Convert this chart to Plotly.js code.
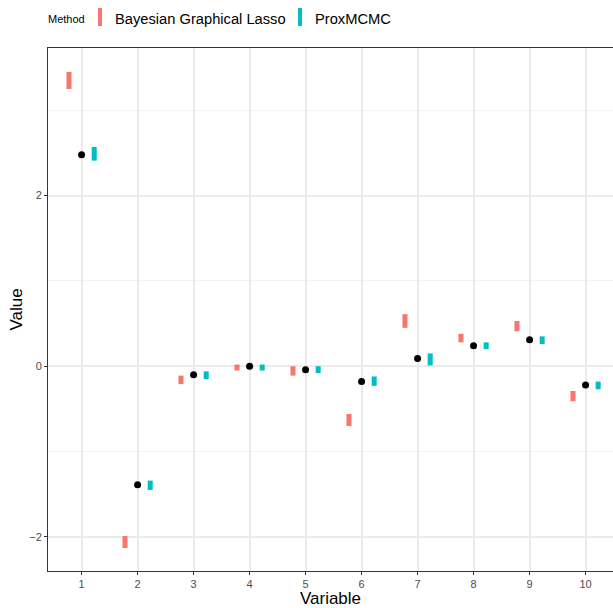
<!DOCTYPE html>
<html>
<head>
<meta charset="utf-8">
<script src="https://cdn.plot.ly/plotly-3.0.1.min.js"></script>
<style>html,body{margin:0;padding:0;background:#fff;}#chart{width:613px;height:608px;}</style>
</head>
<body>
<div id="chart"></div>
<script>
// Data
const variables = [1, 2, 3, 4, 5, 6, 7, 8, 9, 10];
const trueValue = [2.48, -1.39, -0.10, 0.00, -0.04, -0.18, 0.09, 0.24, 0.31, -0.22];
const bglLow  = [3.25, -2.13, -0.21, -0.05, -0.11, -0.70, 0.45, 0.28, 0.41, -0.41];
const bglHigh = [3.45, -1.99, -0.11, 0.02, 0.00, -0.56, 0.61, 0.38, 0.53, -0.29];
const proxLow  = [2.41, -1.45, -0.15, -0.05, -0.08, -0.23, 0.01, 0.20, 0.26, -0.27];
const proxHigh = [2.57, -1.34, -0.06, 0.02, 0.00, -0.12, 0.15, 0.28, 0.35, -0.18];
const methods = ["Bayesian Graphical Lasso", "ProxMCMC"];
const tickLabels = ["1","2","3","4","5","6","7","8","9","10"];

const colBGL = "#F8766D", colProx = "#00BFC4";
const dodge = 0.225, barW = 0.09;

const traces = [
  {
    type: "bar", name: methods[0], showlegend: false,
    x: variables.map(v => v - dodge),
    base: bglLow,
    y: bglHigh.map((h, i) => h - bglLow[i]),
    width: barW,
    marker: {color: colBGL, line: {width: 0}},
    hoverinfo: "skip"
  },
  {
    type: "bar", name: methods[1], showlegend: false,
    x: variables.map(v => v + dodge),
    base: proxLow,
    y: proxHigh.map((h, i) => h - proxLow[i]),
    width: barW,
    marker: {color: colProx, line: {width: 0}},
    hoverinfo: "skip"
  },
  {
    type: "scatter", mode: "markers", showlegend: false,
    x: variables, y: trueValue,
    marker: {color: "#000000", size: 7}
  }
];

const FONT = "Liberation Sans, Arial, Helvetica, sans-serif";

const layout = {
  width: 613, height: 608,
  margin: {l: 48, r: 0, t: 48, b: 37, pad: 0},
  paper_bgcolor: "#ffffff", plot_bgcolor: "#ffffff",
  barmode: "overlay",
  showlegend: false,
  font: {family: FONT},
  xaxis: {
    range: [0.4, 10.49],
    tickvals: variables, ticktext: tickLabels,
    showgrid: true, gridcolor: "#ebebeb", gridwidth: 2,
    zeroline: false,
    showline: true, linecolor: "#333333", linewidth: 1, mirror: true,
    ticks: "outside", ticklen: 3, tickwidth: 1, tickcolor: "#333333",
    tickfont: {family: FONT, size: 11, color: "#4d4d4d"},
    title: {text: "Variable", font: {family: FONT, size: 17, color: "#000000"}, standoff: 3}
  },
  yaxis: {
    range: [-2.40, 3.73],
    tickvals: [-2, 0, 2], ticktext: ["\u22122", "0", "2"],
    showgrid: true, gridcolor: "#ebebeb", gridwidth: 2,
    minor: {tickvals: [-1, 1, 3], showgrid: true, gridcolor: "#f2f2f2", gridwidth: 1, ticks: ""},
    zeroline: false,
    showline: true, linecolor: "#333333", linewidth: 1, mirror: false,
    ticks: "outside", ticklen: 3, tickwidth: 1, tickcolor: "#333333",
    tickfont: {family: FONT, size: 11, color: "#4d4d4d"},
    title: {text: "Value", font: {family: FONT, size: 17, color: "#000000"}, standoff: 2}
  },
  shapes: [
    {type: "rect", xref: "paper", yref: "paper", x0: 0.0885, x1: 0.0956, y0: 1.0421, y1: 1.0765,
     fillcolor: colBGL, line: {width: 0}},
    {type: "rect", xref: "paper", yref: "paper", x0: 0.4425, x1: 0.4496, y0: 1.0421, y1: 1.0765,
     fillcolor: colProx, line: {width: 0}}
  ],
  annotations: [
    {text: "Method", xref: "paper", yref: "paper", x: -0.004, y: 1.0555, xanchor: "left", yanchor: "middle",
     showarrow: false, font: {family: FONT, size: 11, color: "#000000"}},
    {text: methods[0], xref: "paper", yref: "paper", x: 0.1150, y: 1.0555, xanchor: "left", yanchor: "middle",
     showarrow: false, font: {family: FONT, size: 14.7, color: "#000000"}},
    {text: methods[1], xref: "paper", yref: "paper", x: 0.4690, y: 1.0555, xanchor: "left", yanchor: "middle",
     showarrow: false, font: {family: FONT, size: 14.7, color: "#000000"}}
  ]
};

Plotly.newPlot("chart", traces, layout, {displayModeBar: false, staticPlot: true});
</script>
</body>
</html>
